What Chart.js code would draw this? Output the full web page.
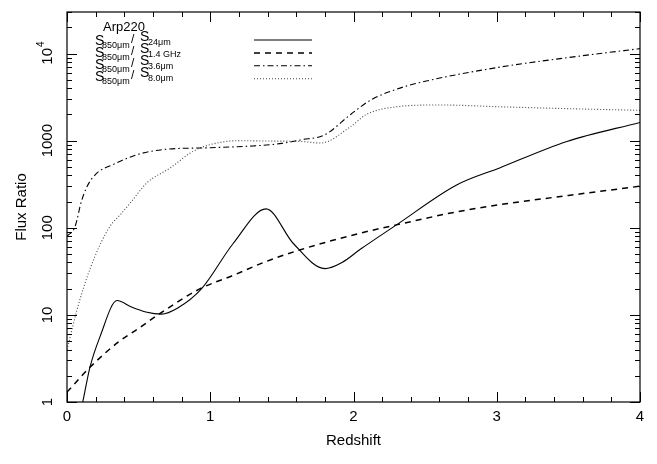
<!DOCTYPE html>
<html>
<head>
<meta charset="utf-8">
<script src="https://cdn.jsdelivr.net/npm/chart.js@4.4.1/dist/chart.umd.min.js"></script>
<style>
  html, body { margin: 0; padding: 0; background: #fff; }
  #wrap { width: 657px; height: 464px; }
</style>
</head>
<body>
<div id="wrap"><canvas id="flux"></canvas></div>
<script>
// values (redshift, flux ratio)
const z24 = [0.08, 0.11, 0.16, 0.23, 0.35, 0.45, 0.55, 0.66, 0.77, 0.94, 1.16, 1.39, 1.58, 1.80, 1.92, 2.05, 2.30, 2.72, 3.02, 3.49, 4.0]
const s24 = [0.6, 1, 2.5, 5.6, 14.6, 12.3, 10.8, 10.2, 11.9, 20, 66, 165, 66, 34, 40, 57, 108, 310, 487, 980, 1620]

const z14 = [0, 0.16, 0.36, 0.5, 0.65, 0.93, 1.15, 1.39, 1.63, 2.05, 2.30, 2.7, 3.02, 3.5, 4.0]
const s14 = [1.3, 2.5, 4.9, 7, 10.4, 20, 28, 41, 56, 87, 108, 150, 184, 235, 300]

const z36 = [0, 0.056, 0.1, 0.14, 0.21, 0.32, 0.49, 0.67, 1.0, 1.3, 1.5, 1.63, 1.80, 1.98, 2.12, 2.3, 2.5, 3.0, 3.5, 4.0]
const s36 = [80, 103, 200, 298, 426, 530, 692, 790, 830, 870, 930, 1020, 1170, 2000, 2930, 3900, 4800, 6900, 9000, 11400]

const z80 = [0, 0.09, 0.195, 0.30, 0.37, 0.45, 0.556, 0.72, 0.88, 1.0, 1.2, 1.4, 1.63, 1.77, 1.98, 2.09, 2.30, 2.6, 3.02, 3.5, 4.0]
const s80 = [4, 15, 47, 104, 140, 200, 326, 486, 755, 900, 1000, 990, 980, 940, 1450, 2000, 2450, 2570, 2450, 2330, 2230]

const xMajor = [0, 1, 2, 3, 4]
const yMajor = [1, 10, 100, 1000, 10000]
const yLabels = ['1', '10', '100', '1000', '10^4']
const legendSubs = ['24\u03bcm', '1.4 GHz', '3.6\u03bcm', '8.0\u03bcm']
const legendName = 'Arp220'

const FONT = '"Liberation Sans", Arial, sans-serif'
const dashes = [[], [6, 5], [6, 3, 1.5, 3], [1, 2]]

const pts = (zs, vs) => zs.map((z, i) => ({x: z, y: vs[i]}))

const series = [
  {data: pts(z24, s24), width: 1.1, color: '#000'},
  {data: pts(z14, s14), width: 1.5, color: '#000'},
  {data: pts(z36, s36), width: 1.1, color: '#000'},
  {data: pts(z80, s80), width: 1.1, color: '#444'}
]

const frame = {
  id: 'frame',
  afterDraw(chart) {
    const {ctx, chartArea: a, scales: {x, y}} = chart
    const line = (x1, y1, x2, y2) => { ctx.beginPath(); ctx.moveTo(x1, y1); ctx.lineTo(x2, y2); ctx.stroke() }
    ctx.save()
    ctx.strokeStyle = '#000'
    ctx.lineWidth = 1.2
    ctx.strokeRect(a.left, a.top, a.right - a.left, a.bottom - a.top)
    ctx.lineWidth = 1
    // x ticks, inward, bottom and top
    for (let i = 0; i <= 20; i++) {
      const v = i * 0.2
      const px = Math.round(x.getPixelForValue(v)) + 0.5
      const len = i % 5 === 0 ? 10 : 5
      line(px, a.bottom, px, a.bottom - len)
      line(px, a.top, px, a.top + len)
    }
    // y ticks, left and right
    for (let d = 0; d <= 4; d++) {
      for (let m = 1; m <= 9; m++) {
        const v = m * Math.pow(10, d)
        if (v > y.max) break
        const py = Math.round(y.getPixelForValue(v)) + 0.5
        const len = m === 1 ? 10 : 5
        line(a.left, py, a.left + len, py)
        line(a.right, py, a.right - len, py)
      }
    }
    // tick labels
    ctx.fillStyle = '#000'
    ctx.font = '15px ' + FONT
    ctx.textAlign = 'center'
    ctx.textBaseline = 'middle'
    xMajor.forEach(v => ctx.fillText(String(v), x.getPixelForValue(v), a.bottom + 15))
    yMajor.forEach((v, i) => {
      ctx.save()
      ctx.translate(a.left - 19, y.getPixelForValue(v))
      ctx.rotate(-Math.PI / 2)
      const lab = yLabels[i]
      if (lab.includes('^')) {
        const [base, exp] = lab.split('^')
        ctx.font = '15px ' + FONT
        const wb = ctx.measureText(base).width
        ctx.font = '10px ' + FONT
        const we = ctx.measureText(exp).width
        const start = -(wb + we) / 2
        ctx.textAlign = 'left'
        ctx.font = '15px ' + FONT
        ctx.fillText(base, start, 0)
        ctx.font = '10px ' + FONT
        ctx.fillText(exp, start + wb + 1, -7)
      } else {
        ctx.fillText(lab, 0, 0)
      }
      ctx.restore()
    })
    // axis titles
    ctx.font = '15px ' + FONT
    ctx.fillText('Redshift', (a.left + a.right) / 2, a.bottom + 39)
    ctx.save()
    ctx.translate(a.left - 45, (a.top + a.bottom) / 2)
    ctx.rotate(-Math.PI / 2)
    ctx.fillText('Flux Ratio', 0, 0)
    ctx.restore()

    // legend
    ctx.textAlign = 'left'
    ctx.textBaseline = 'alphabetic'
    ctx.font = '13px ' + FONT
    ctx.fillText(legendName, a.left + 36, a.top + 19)
    legendSubs.forEach((sub, i) => {
      const b = a.top + 33 + 12 * i
      const lx = a.left + 28
      ctx.font = '14px ' + FONT
      ctx.fillText('S', lx, b)
      ctx.font = '9px ' + FONT
      ctx.fillText('850\u03bcm', lx + 7, b + 3)
      ctx.font = '12px ' + FONT
      ctx.fillText('/', lx + 36, b - 2)
      ctx.font = '14px ' + FONT
      ctx.fillText('S', lx + 45, b - 4)
      ctx.font = '9px ' + FONT
      ctx.fillText(sub, lx + 53, b)
      // sample line
      const ly = a.top + 28 + 12.9 * i
      ctx.strokeStyle = series[i].color
      ctx.lineWidth = series[i].width
      ctx.setLineDash(dashes[i])
      line(a.left + 187, ly, a.left + 245, ly)
      ctx.setLineDash([])
    })
    ctx.restore()
  }
}

new Chart(document.getElementById('flux'), {
  type: 'line',
  data: {
    datasets: series.map((s, i) => ({
      data: s.data,
      borderColor: s.color,
      borderWidth: s.width,
      borderDash: dashes[i],
      pointRadius: 0,
      fill: false,
      cubicInterpolationMode: 'monotone'
    }))
  },
  options: {
    responsive: true,
    maintainAspectRatio: false,
    animation: false,
    layout: {padding: {left: 67, right: 17, top: 12, bottom: 62}},
    plugins: {legend: {display: false}, tooltip: {enabled: false}},
    scales: {
      x: {type: 'linear', min: 0, max: 4, display: false},
      y: {type: 'logarithmic', min: 1, max: 30000, display: false}
    }
  },
  plugins: [frame]
})
</script>
</body>
</html>
